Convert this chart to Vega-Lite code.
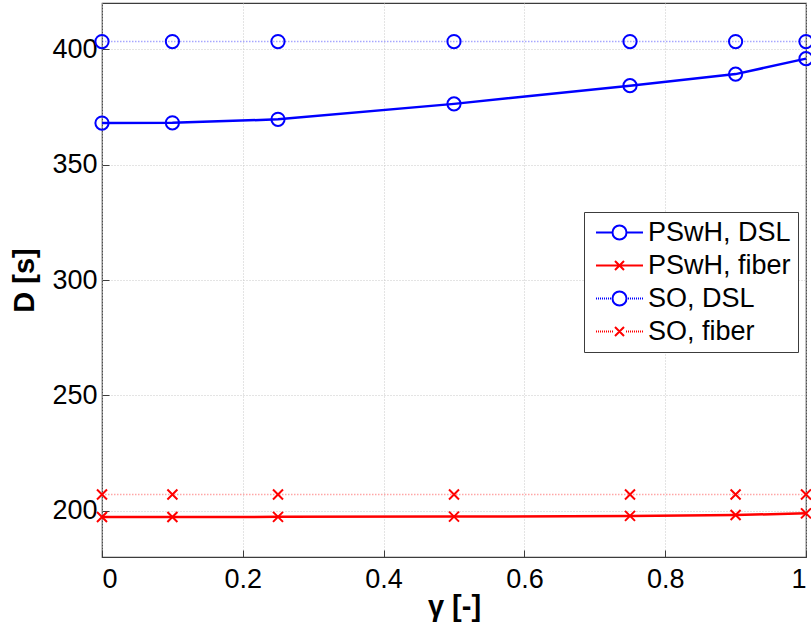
{
  "$schema": "https://vega.github.io/schema/vega-lite/v6.json",
  "width": 704,
  "height": 554,
  "autosize": {"type": "none"},
  "padding": {"left": 102, "top": 3, "right": 5, "bottom": 76},
  "background": "white",
  "config": {
    "font": "Arial",
    "view": {"stroke": "#3c3c3c", "strokeWidth": 1.2},
    "axis": {
      "labelFont": "Arial",
      "labelFontSize": 27,
      "labelColor": "black",
      "titleFont": "Arial",
      "titleFontSize": 29,
      "titleFontWeight": "bold",
      "titleColor": "black",
      "domain": false,
      "tickSize": -7,
      "tickColor": "#3c3c3c",
      "gridColor": "#c8c8c8",
      "gridDash": [1, 2],
      "gridWidth": 1
    }
  },
  "datasets": {
    "main": [
      {"gamma": 0, "D": 368.0, "series": "PSwH, DSL"},
      {"gamma": 0.1, "D": 368.1, "series": "PSwH, DSL"},
      {"gamma": 0.25, "D": 369.6, "series": "PSwH, DSL"},
      {"gamma": 0.5, "D": 376.3, "series": "PSwH, DSL"},
      {"gamma": 0.75, "D": 384.2, "series": "PSwH, DSL"},
      {"gamma": 0.9, "D": 389.2, "series": "PSwH, DSL"},
      {"gamma": 1, "D": 395.9, "series": "PSwH, DSL"},
      {"gamma": 0, "D": 197.3, "series": "PSwH, fiber"},
      {"gamma": 0.1, "D": 197.3, "series": "PSwH, fiber"},
      {"gamma": 0.25, "D": 197.4, "series": "PSwH, fiber"},
      {"gamma": 0.5, "D": 197.5, "series": "PSwH, fiber"},
      {"gamma": 0.75, "D": 197.8, "series": "PSwH, fiber"},
      {"gamma": 0.9, "D": 198.2, "series": "PSwH, fiber"},
      {"gamma": 1, "D": 198.9, "series": "PSwH, fiber"},
      {"gamma": 0, "D": 403.3, "series": "SO, DSL"},
      {"gamma": 0.1, "D": 403.3, "series": "SO, DSL"},
      {"gamma": 0.25, "D": 403.3, "series": "SO, DSL"},
      {"gamma": 0.5, "D": 403.3, "series": "SO, DSL"},
      {"gamma": 0.75, "D": 403.3, "series": "SO, DSL"},
      {"gamma": 0.9, "D": 403.3, "series": "SO, DSL"},
      {"gamma": 1, "D": 403.3, "series": "SO, DSL"},
      {"gamma": 0, "D": 207.1, "series": "SO, fiber"},
      {"gamma": 0.1, "D": 207.1, "series": "SO, fiber"},
      {"gamma": 0.25, "D": 207.1, "series": "SO, fiber"},
      {"gamma": 0.5, "D": 207.1, "series": "SO, fiber"},
      {"gamma": 0.75, "D": 207.1, "series": "SO, fiber"},
      {"gamma": 0.9, "D": 207.1, "series": "SO, fiber"},
      {"gamma": 1, "D": 207.1, "series": "SO, fiber"}
    ]
  },
  "data": {"name": "main"},
  "encoding": {
    "x": {
      "field": "gamma", "type": "quantitative",
      "scale": {"domain": [0, 1], "nice": false, "zero": false},
      "axis": {"values": [0, 0.2, 0.4, 0.6, 0.8, 1], "format": "~g", "title": "γ [-]", "labelPadding": 16, "titlePadding": 0}
    },
    "y": {
      "field": "D", "type": "quantitative",
      "scale": {"domain": [180, 420], "nice": false, "zero": false},
      "axis": {"values": [200, 250, 300, 350, 400], "title": "D [s]", "labelPadding": 12, "titlePadding": 12}
    },
    "color": {"field": "series", "type": "nominal",
      "scale": {"domain": ["PSwH, DSL", "PSwH, fiber", "SO, DSL", "SO, fiber"], "range": ["#0000ff", "#ff0000", "#0000ff", "#ff0000"]},
      "legend": {
        "title": null, "orient": "none", "legendX": 482, "legendY": 209,
        "labelFont": "Arial", "labelFontSize": 27, "labelColor": "black",
        "strokeColor": "#3c3c3c", "fillColor": "white", "padding": 7,
        "rowPadding": 5, "symbolOffset": 15, "labelOffset": 15,
        "symbolStrokeWidth": 2, "symbolSize": 400
      }}
  },
  "layer": [
    {
      "transform": [{"filter": "false"}],
      "mark": {"type": "point", "filled": false, "strokeWidth": 2, "size": 400, "opacity": 1},
      "encoding": {
        "shape": {"field": "series", "type": "nominal",
          "legend": {
            "title": null, "orient": "none", "legendX": 482, "legendY": 209,
            "labelFont": "Arial", "labelFontSize": 27, "labelColor": "black",
            "strokeColor": "#3c3c3c", "fillColor": "white", "padding": 7,
            "rowPadding": 5, "symbolOffset": 15, "labelOffset": 15,
            "symbolStrokeWidth": 2, "symbolSize": 400
          },
          "scale": {"domain": ["PSwH, DSL", "PSwH, fiber", "SO, DSL", "SO, fiber"], "range": [
            "M-2.35,0H-0.7M0.7,0H2.35M-0.7,0A0.7,0.7 0 1,1 0.7,0A0.7,0.7 0 1,1 -0.7,0",
            "M-2.35,0H2.35M-0.45,-0.45L0.45,0.45M-0.45,0.45L0.45,-0.45",
            "M-2.35,0H-2.25M-2.15,0H-2.05M-1.95,0H-1.85M-1.75,0H-1.65M-1.55,0H-1.45M-1.35,0H-1.25M-1.15,0H-1.05M-0.95,0H-0.85M0.85,0H0.95M1.05,0H1.15M1.25,0H1.35M1.45,0H1.55M1.65,0H1.75M1.85,0H1.95M2.05,0H2.15M2.25,0H2.35M-0.7,0A0.7,0.7 0 1,1 0.7,0A0.7,0.7 0 1,1 -0.7,0",
            "M-2.35,0H-2.25M-2.15,0H-2.05M-1.95,0H-1.85M-1.75,0H-1.65M-1.55,0H-1.45M-1.35,0H-1.25M-1.15,0H-1.05M-0.95,0H-0.85M-0.75,0H-0.65M0.65,0H0.75M0.85,0H0.95M1.05,0H1.15M1.25,0H1.35M1.45,0H1.55M1.65,0H1.75M1.85,0H1.95M2.05,0H2.15M2.25,0H2.35M-0.45,-0.45L0.45,0.45M-0.45,0.45L0.45,-0.45"
          ]}}
      }
    },
    {
      "transform": [{"filter": "indexof(datum.series, 'SO') == 0"}],
      "mark": {"type": "line", "strokeDash": [1.5, 1.5], "strokeWidth": 1.5, "opacity": 0.35}
    },
    {
      "transform": [{"filter": "indexof(datum.series, 'PSwH') == 0"}],
      "mark": {"type": "line", "strokeWidth": 2.5}
    },
    {
      "transform": [{"filter": "indexof(datum.series, 'DSL') >= 0"}],
      "mark": {"type": "point", "filled": false, "strokeWidth": 2, "opacity": 1, "shape": "circle", "size": 175}
    },
    {
      "transform": [{"filter": "indexof(datum.series, 'fiber') >= 0"}],
      "mark": {"type": "point", "filled": false, "strokeWidth": 2, "opacity": 1, "shape": "M-1,-1L1,1M-1,1L1,-1", "size": 100}
    }
  ]
}
